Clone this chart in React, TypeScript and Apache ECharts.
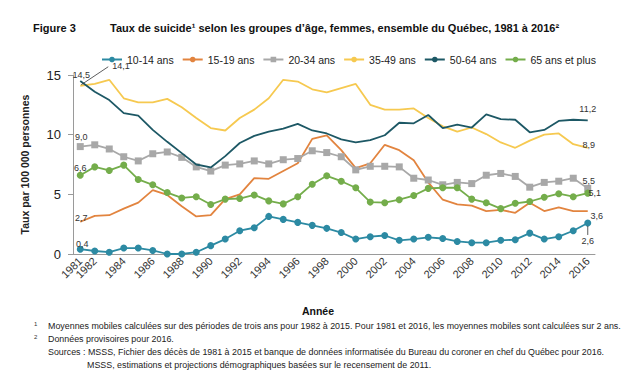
import React, { useEffect, useRef } from "react";
import * as echarts from "echarts";

const FONT = '"Liberation Sans", Arial, Helvetica, sans-serif';

const years = [
  "1981", "1982", "1983", "1984", "1985", "1986", "1987", "1988", "1989", "1990",
  "1991", "1992", "1993", "1994", "1995", "1996", "1997", "1998", "1999", "2000",
  "2001", "2002", "2003", "2004", "2005", "2006", "2007", "2008", "2009", "2010",
  "2011", "2012", "2013", "2014", "2015", "2016",
];

const seriesNames = ["10-14 ans", "15-19 ans", "20-34 ans", "35-49 ans", "50-64 ans", "65 ans et plus"];

const age10_14 = [0.4, 0.25, 0.15, 0.5, 0.5, 0.3, 0.0, 0.0, 0.15, 0.7, 1.25, 1.95, 2.2, 3.15, 2.9, 2.65, 2.4, 2.15, 1.8, 1.25, 1.45, 1.55, 1.15, 1.25, 1.4, 1.3, 1.05, 0.95, 0.95, 1.15, 1.2, 1.75, 1.25, 1.45, 1.95, 2.6];
const age15_19 = [2.7, 3.2, 3.25, 3.8, 4.3, 5.35, 4.95, 4.0, 3.15, 3.25, 4.6, 5.0, 6.35, 6.3, 6.95, 7.6, 9.65, 9.95, 8.7, 7.2, 7.6, 9.15, 8.7, 7.85, 6.0, 4.55, 4.15, 4.05, 3.6, 3.7, 3.45, 4.3, 3.6, 3.9, 3.6, 3.6];
const age20_34 = [9.0, 9.15, 8.8, 8.15, 7.8, 8.4, 8.55, 8.1, 7.3, 6.95, 7.45, 7.55, 7.8, 7.55, 7.9, 8.0, 8.65, 8.5, 8.15, 7.05, 7.35, 7.35, 7.3, 6.35, 6.2, 5.8, 6.0, 5.9, 6.6, 6.75, 6.5, 5.6, 6.0, 6.1, 6.35, 5.5];
const age35_49 = [14.1, 14.25, 14.6, 13.05, 12.7, 12.7, 13.0, 12.3, 11.4, 10.55, 10.35, 11.4, 12.1, 13.05, 14.6, 14.45, 13.8, 13.55, 13.9, 14.25, 12.5, 12.1, 12.1, 12.2, 11.4, 10.7, 10.25, 10.6, 10.05, 9.35, 8.9, 9.5, 10.0, 10.1, 9.2, 8.9];
const age50_64 = [14.5, 13.6, 12.9, 11.8, 11.6, 10.4, 9.4, 8.45, 7.5, 7.25, 8.2, 9.3, 9.9, 10.25, 10.5, 10.9, 10.35, 10.1, 9.6, 9.35, 9.55, 9.95, 11.0, 10.95, 11.65, 10.55, 10.85, 10.6, 11.7, 11.3, 11.25, 10.2, 10.4, 11.15, 11.25, 11.2];
const age65plus = [6.6, 7.3, 7.0, 7.45, 6.25, 5.8, 5.15, 4.7, 4.8, 4.15, 4.6, 4.65, 4.95, 4.45, 4.2, 4.8, 5.85, 6.55, 6.1, 5.55, 4.35, 4.3, 4.55, 4.9, 5.5, 5.55, 5.55, 4.6, 4.3, 3.8, 4.25, 4.4, 4.75, 5.05, 4.8, 5.1];

const seriesData = [age10_14, age15_19, age20_34, age35_49, age50_64, age65plus];
const colors = ["#2c8aa3", "#e2843f", "#a8a8a8", "#f6c950", "#1d5865", "#74ad4b"];
const symbols = ["circle", "none", "rect", "none", "none", "circle"];

const titleLead = "Figure 3";
const titleText = "Taux de suicide¹ selon les groupes d’âge, femmes, ensemble du Québec, 1981 à 2016²";
const yAxisName = "Taux par 100 000 personnes";
const xAxisName = "Année";
const notes = [
  { mark: "1", text: "Moyennes mobiles calculées sur des périodes de trois ans pour 1982 à 2015. Pour 1981 et 2016, les moyennes mobiles sont calculées sur 2 ans." },
  { mark: "2", text: "Données provisoires pour 2016." },
  { mark: "", text: "Sources : MSSS, Fichier des décès de 1981 à 2015 et banque de données informatisée du Bureau du coroner en chef du Québec pour 2016." },
  { mark: "", text: "MSSS, estimations et projections démographiques basées sur le recensement de 2011." },
];

const fmt = (v: number) => v.toFixed(1).replace(".", ",");

const X_LABEL_FONT = 11;
const X_LABEL_MARGIN = 5;

export default function App() {
  const ref = useRef<HTMLDivElement>(null);
  useEffect(() => {
    if (!ref.current) return;
    const chart = echarts.init(ref.current, undefined, { renderer: "svg" });
    const option: any = {
      animation: false,
      textStyle: { fontFamily: FONT },
      legend: {
        left: 96,
        top: 49,
        itemWidth: 20,
        itemHeight: 7,
        itemGap: 8,
        textStyle: { fontSize: 10.5, color: "#222", fontFamily: FONT },
        data: seriesNames,
      },
      grid: { left: 73, right: 35, top: 75, bottom: 126 },
      xAxis: {
        type: "category",
        data: years,
        boundaryGap: true,
        axisLine: { lineStyle: { color: "#9a9a9a", width: 1 } },
        axisTick: { interval: 0, length: 4, lineStyle: { color: "#9a9a9a" } },
        axisLabel: {
          // the first year (1981) is drawn separately below so that it can overlap 1982 as in the source
          interval: (i: number) => i % 2 === 1,
          rotate: 45,
          fontSize: X_LABEL_FONT,
          color: "#333",
          margin: X_LABEL_MARGIN,
          fontFamily: FONT,
        },
      },
      yAxis: {
        type: "value",
        min: 0,
        max: 15,
        interval: 5,
        splitLine: { show: false },
        axisLine: { show: true, lineStyle: { color: "#9a9a9a" } },
        axisTick: { show: true, length: 5, lineStyle: { color: "#9a9a9a" } },
        axisLabel: { fontSize: 13, color: "#222", margin: 12, fontFamily: FONT },
        name: yAxisName,
        nameLocation: "middle",
        nameGap: 43,
        nameTextStyle: { fontWeight: "bold", fontSize: 10.5, color: "#222", fontFamily: FONT },
      },
      series: seriesNames.map((name, i) => ({
        name,
        type: "line",
        data: seriesData[i],
        symbol: symbols[i],
        symbolSize: 7,
        showSymbol: symbols[i] !== "none",
        color: colors[i],
        itemStyle: { color: colors[i] },
        lineStyle: { color: colors[i], width: 1.8 },
        z: 2 + i,
      })),
    };
    chart.setOption(option);

    const pt = (s: number, idx: number) =>
      chart.convertToPixel({ xAxisIndex: 0, yAxisIndex: 0 }, [idx, seriesData[s][idx]]) as number[];
    const last = years.length - 1;
    const labelStyle = (text: string, align = "center") => ({
      text,
      fontSize: 9,
      fontFamily: FONT,
      fill: "#333",
      align,
      verticalAlign: "middle",
      textAlign: align,
      textVerticalAlign: "middle",
    });
    const graphics: any[] = [];
    const addLabel = (s: number, idx: number, dx: number, dy: number, align = "center") => {
      const [x, y] = pt(s, idx);
      graphics.push({ type: "text", x: x + dx, y: y + dy, z: 100, style: labelStyle(fmt(seriesData[s][idx]), align) });
    };
    // first year tick label
    {
      const x0 = chart.convertToPixel({ xAxisIndex: 0 }, 0) as number;
      const yAxis0 = chart.convertToPixel({ yAxisIndex: 0 }, 0) as number;
      graphics.push({
        type: "text",
        x: x0,
        y: yAxis0 + X_LABEL_MARGIN,
        rotation: Math.PI / 4,
        style: {
          text: years[0],
          fontSize: X_LABEL_FONT,
          fontFamily: FONT,
          fill: "#333",
          align: "right",
          verticalAlign: "middle",
          textAlign: "right",
          textVerticalAlign: "middle",
        },
      });
    }
    // start labels
    addLabel(4, 0, 1, -6);
    addLabel(2, 0, 1, -10);
    addLabel(5, 0, 0, -7);
    addLabel(1, 0, 1, -4);
    addLabel(0, 0, 2, -5);
    {
      const [x, y] = pt(3, 0);
      graphics.push({
        type: "line",
        z: 100,
        shape: { x1: x + 1, y1: y - 1, x2: x + 28, y2: y - 19 },
        style: { stroke: "#333", lineWidth: 0.8 },
      });
      graphics.push({ type: "text", x: x + 32, y: y - 20, z: 100, style: labelStyle(fmt(seriesData[3][0]), "left") });
    }
    // end labels
    addLabel(4, last, 0, -11);
    addLabel(3, last, 1, -3);
    addLabel(2, last, 1, -7);
    addLabel(5, last, 7, 0);
    addLabel(1, last, 9, 5);
    {
      const [x, y] = pt(0, last);
      graphics.push({
        type: "line",
        z: 100,
        shape: { x1: x, y1: y + 3, x2: x, y2: y + 12 },
        style: { stroke: "#333", lineWidth: 0.8 },
      });
      graphics.push({ type: "text", x: x, y: y + 18, z: 100, style: labelStyle(fmt(seriesData[0][last])) });
    }
    // title
    graphics.push({
      type: "text",
      left: 33,
      top: 22,
      style: { text: titleLead, fontSize: 11, fontWeight: "bold", fontFamily: FONT, fill: "#111" },
    });
    graphics.push({
      type: "text",
      left: 110,
      top: 22,
      style: { text: titleText, fontSize: 11, fontWeight: "bold", fontFamily: FONT, fill: "#111" },
    });
    // x axis name
    graphics.push({
      type: "text",
      x: 318,
      y: 311,
      style: {
        text: xAxisName,
        fontSize: 10.5,
        fontWeight: "bold",
        fontFamily: FONT,
        fill: "#111",
        align: "center",
        verticalAlign: "middle",
        textAlign: "center",
        textVerticalAlign: "middle",
      },
    });
    // footnotes
    const noteY = [326, 339, 352, 365];
    const noteX = [48, 48, 48, 87];
    notes.forEach((n, i) => {
      if (n.mark) {
        graphics.push({
          type: "text",
          x: 34,
          y: noteY[i] - 2,
          style: { text: n.mark, fontSize: 6, fontFamily: FONT, fill: "#333", verticalAlign: "middle", textVerticalAlign: "middle" },
        });
      }
      graphics.push({
        type: "text",
        x: noteX[i],
        y: noteY[i],
        style: { text: n.text, fontSize: 8.9, fontFamily: FONT, fill: "#222", verticalAlign: "middle", textVerticalAlign: "middle" },
      });
    });
    chart.setOption({ graphic: graphics });
    return () => chart.dispose();
  }, []);
  return (
    <div
      ref={ref}
      style={{ position: "absolute", left: 0, top: 0, width: 630, height: 380, background: "#fff" }}
    />
  );
}
